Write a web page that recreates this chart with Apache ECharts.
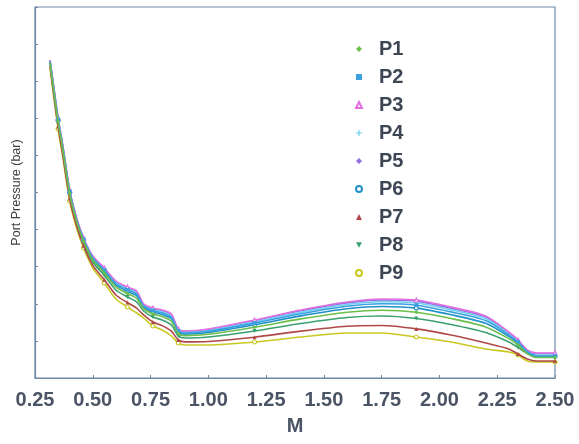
<!DOCTYPE html>
<html>
<head>
<meta charset="utf-8">
<script src="https://cdn.jsdelivr.net/npm/echarts@6/dist/echarts.min.js"></script>
<style>
  html, body { margin: 0; padding: 0; background: #ffffff; }
  #chart { width: 579px; height: 444px; }
</style>
</head>
<body>
<div id="chart"></div>
<script>
// Mach number sample points shared by all port-pressure curves
const machValues = [0.315, 0.33, 0.35, 0.37, 0.40, 0.43, 0.46, 0.50, 0.55, 0.60, 0.65, 0.69, 0.72, 0.76, 0.80, 0.84, 0.87, 0.90, 1.00, 1.20, 1.40, 1.60, 1.75, 1.90, 2.05, 2.20, 2.30, 2.34, 2.38, 2.42, 2.50];

// Port pressure (bar) for each port
const p1 = [31.54, 28.97, 25.64, 22.90, 18.44, 15.67, 13.67, 11.80, 10.51, 9.11, 8.44, 7.97, 6.94, 6.41, 6.14, 5.67, 4.44, 4.24, 4.37, 5.07, 5.91, 6.58, 6.78, 6.58, 5.95, 5.11, 3.94, 3.31, 2.44, 2.05, 2.05];
const p2 = [31.69, 29.16, 25.85, 23.13, 18.65, 15.86, 13.86, 12.03, 10.79, 9.45, 8.82, 8.39, 7.20, 6.75, 6.52, 6.09, 4.70, 4.50, 4.68, 5.49, 6.42, 7.17, 7.42, 7.28, 6.61, 5.74, 4.32, 3.59, 2.65, 2.20, 2.20];
const p3 = [31.80, 29.30, 26.00, 23.30, 18.80, 16.00, 14.00, 12.20, 11.00, 9.70, 9.10, 8.70, 7.40, 7.00, 6.80, 6.40, 4.90, 4.70, 4.90, 5.80, 6.80, 7.60, 7.90, 7.80, 7.10, 6.20, 4.60, 3.80, 2.80, 2.50, 2.50];
const p4 = [31.74, 29.22, 25.91, 23.20, 18.71, 15.92, 13.92, 12.10, 10.88, 9.56, 8.94, 8.52, 7.29, 6.86, 6.64, 6.22, 4.79, 4.59, 4.77, 5.62, 6.58, 7.35, 7.63, 7.50, 6.82, 5.94, 4.44, 3.68, 2.71, 2.30, 2.30];
const p5 = [31.78, 29.27, 25.97, 23.26, 18.77, 15.97, 13.97, 12.16, 10.96, 9.65, 9.04, 8.63, 7.36, 6.95, 6.74, 6.33, 4.86, 4.66, 4.85, 5.73, 6.72, 7.51, 7.80, 7.69, 6.99, 6.10, 4.54, 3.76, 2.77, 2.45, 2.45];
const p6 = [31.62, 29.08, 25.76, 23.04, 18.56, 15.78, 13.78, 11.94, 10.67, 9.30, 8.66, 8.22, 7.09, 6.60, 6.36, 5.92, 4.59, 4.39, 4.55, 5.32, 6.21, 6.92, 7.15, 6.99, 6.33, 5.47, 4.16, 3.47, 2.56, 2.15, 2.15];
const p7 = [31.18, 28.52, 25.14, 22.36, 17.94, 15.22, 13.22, 11.26, 9.83, 8.30, 7.54, 6.98, 6.31, 5.60, 5.24, 4.68, 3.81, 3.61, 3.65, 4.08, 4.69, 5.18, 5.25, 4.91, 4.30, 3.50, 2.90, 2.40, 1.90, 1.70, 1.70];
const p8 = [31.40, 28.80, 25.45, 22.70, 18.25, 15.50, 13.50, 11.60, 10.25, 8.80, 8.10, 7.60, 6.70, 6.10, 5.80, 5.30, 4.20, 4.00, 4.10, 4.70, 5.45, 6.05, 6.20, 5.95, 5.35, 4.55, 3.60, 3.05, 2.45, 2.20, 2.20];
const p9 = [31.00, 28.30, 24.90, 22.10, 17.70, 15.00, 13.00, 11.00, 9.50, 7.90, 7.10, 6.50, 6.00, 5.20, 4.80, 4.20, 3.50, 3.30, 3.30, 3.60, 4.10, 4.50, 4.50, 4.10, 3.60, 2.90, 2.60, 2.30, 1.70, 1.60, 1.60];

const seriesNames = ['P1', 'P2', 'P3', 'P4', 'P5', 'P6', 'P7', 'P8', 'P9'];
const seriesValues = [p1, p2, p3, p4, p5, p6, p7, p8, p9];

// x-axis tick labels
const xTicks = ['0.25', '0.50', '0.75', '1.00', '1.25', '1.50', '1.75', '2.00', '2.25', '2.50'];

// sample indices that carry a marker symbol
const markerIndex = [2, 4, 6, 8, 10, 13, 16, 19, 23, 27, 30];

const styles = [
  { color: '#6cbf4a', symbol: 'diamond', hollow: false },
  { color: '#3aa0e0', symbol: 'rect', hollow: false },
  { color: '#e070e0', symbol: 'triangle', hollow: true },
  { color: '#70cff2', symbol: 'path://M4,0H6V4H10V6H6V10H4V6H0V4H4Z', hollow: false },
  { color: '#9070e0', symbol: 'diamond', hollow: false },
  { color: '#2090c8', symbol: 'circle', hollow: true },
  { color: '#b04848', symbol: 'triangle', hollow: false },
  { color: '#3aa070', symbol: 'path://M0,0H10L5,9Z', hollow: false },
  { color: '#c8c820', symbol: 'circle', hollow: true }
];

const series = seriesNames.map((name, k) => {
  const st = styles[k];
  const data = machValues.map((m, i) => {
    const item = { value: [m, seriesValues[k][i]] };
    if (markerIndex.indexOf(i) < 0) item.symbol = 'none';
    return item;
  });
  return {
    name: name,
    type: 'line',
    data: data,
    smooth: 0.25,
    symbol: st.symbol,
    symbolSize: 4,
    showSymbol: true,
    lineStyle: { color: st.color, width: 1.6 },
    itemStyle: st.hollow
      ? { color: '#ffffff', borderColor: st.color, borderWidth: 1.2 }
      : { color: st.color, borderColor: st.color, borderWidth: 0 },
    emphasis: { disabled: true },
    z: 10 - k
  };
});

const chart = echarts.init(document.getElementById('chart'), null, { renderer: 'canvas' });
chart.setOption({
  animation: false,
  backgroundColor: '#ffffff',
  grid: {
    left: 35, right: 24, top: 7, bottom: 66,
    show: true, borderColor: '#6f8aa6', borderWidth: 1.2, backgroundColor: 'transparent'
  },
  legend: {
    orient: 'vertical',
    left: 350,
    top: 34,
    itemWidth: 6,
    itemHeight: 6,
    itemGap: 8,
    data: seriesNames.map((n, k) => ({ name: n, icon: styles[k].symbol })),
    textStyle: {
      fontFamily: 'Liberation Sans, Arial, sans-serif',
      fontSize: 20,
      fontWeight: 'bold',
      color: '#3c4654',
      padding: [0, 0, 0, 12]
    }
  },
  xAxis: {
    type: 'value',
    min: 0.25,
    max: 2.5,
    interval: 0.25,
    name: 'M',
    nameLocation: 'middle',
    nameGap: 38,
    nameTextStyle: {
      fontFamily: 'Liberation Sans, Arial, sans-serif',
      fontSize: 20, fontWeight: 'bold', color: '#4a5464'
    },
    axisLine: { show: true, lineStyle: { color: '#6f8aa6', width: 1.2 } },
    axisTick: { show: true, inside: true, length: 3, lineStyle: { color: '#6f8aa6' } },
    splitLine: { show: false },
    axisLabel: {
      margin: 12,
      fontFamily: 'Liberation Sans, Arial, sans-serif',
      fontSize: 20, fontWeight: 'bold', color: '#4a5464',
      formatter: (v) => {
        const idx = Math.round((v - 0.25) / 0.25);
        return xTicks[idx] !== undefined ? xTicks[idx] : '';
      }
    }
  },
  yAxis: {
    type: 'value',
    min: 0,
    max: 37.1,
    interval: 3.71,
    name: 'Port Pressure (bar)',
    nameLocation: 'middle',
    nameGap: 12,
    nameTextStyle: {
      fontFamily: 'Liberation Sans, Arial, sans-serif',
      fontSize: 12.5, color: '#404040'
    },
    axisLine: { show: true, lineStyle: { color: '#6f8aa6', width: 1.2 } },
    axisTick: { show: true, inside: true, length: 3, lineStyle: { color: '#6f8aa6' } },
    axisLabel: { show: false },
    splitLine: { show: false }
  },
  series: series
});
</script>
</body>
</html>
